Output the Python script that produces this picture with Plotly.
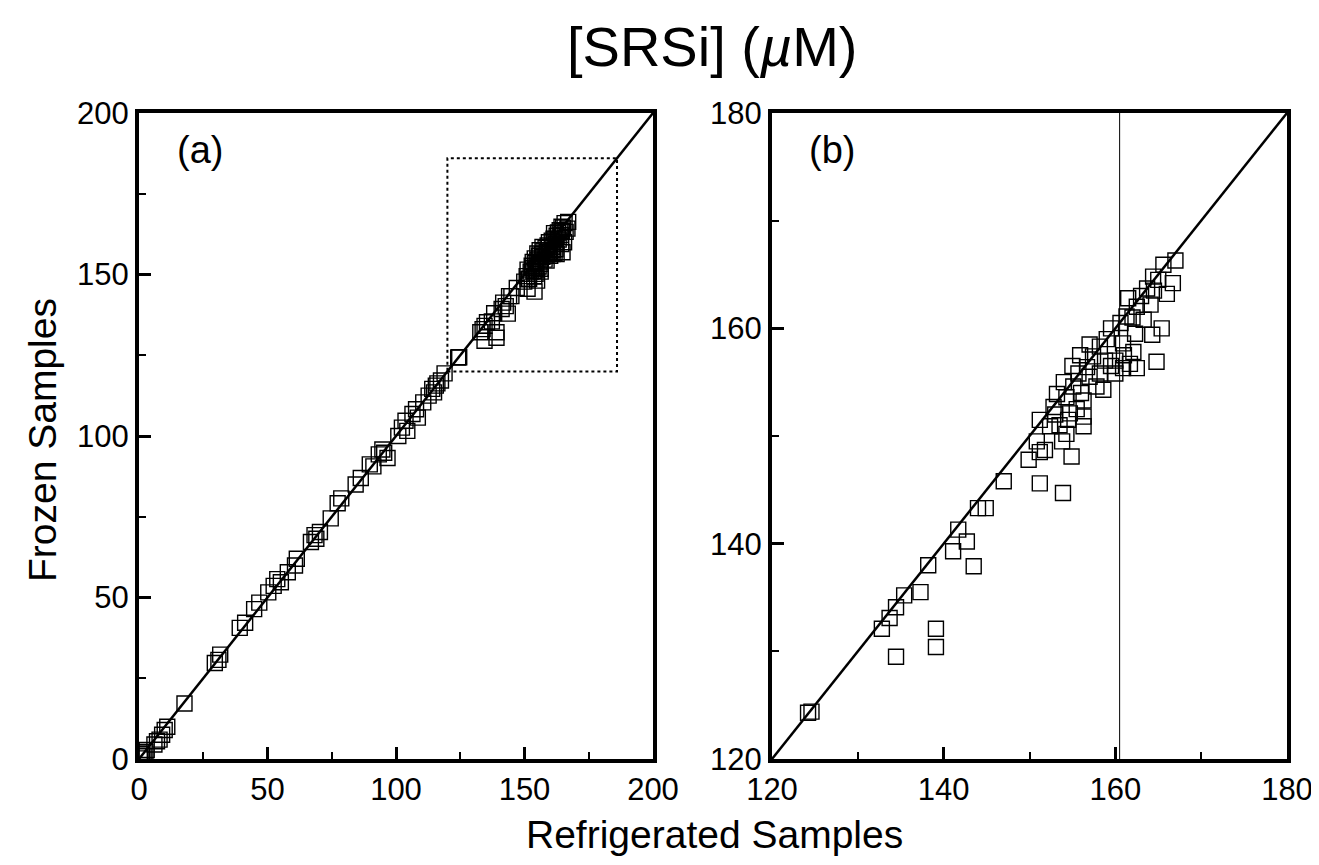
import plotly.graph_objects as go

# Refrigerated (x) vs Frozen (y) [SRSi] in uM
refrigerated = [
    0.3, 0.5, 1.2, 1.8, 2.5, 1.0, 3.0,
    6.0, 7.0, 8.0, 9.0, 10.0, 11.0,
    17.7, 29.5, 30.9, 31.6, 39.2, 41.3, 44.8, 46.8,
    50.3, 52.4, 53.8, 55.2, 57.9, 60.7, 61.4,
    66.9, 68.3, 69.0, 70.4, 74.6, 77.3, 78.7,
    84.3, 86.3, 89.8, 91.2, 93.3, 94.7, 95.4, 96.7,
    100.9, 102.3, 103.7, 104.4, 106.4, 107.8, 108.5,
    110.6, 112.7, 114.1, 115.5, 114.8, 117.5, 116.1, 118.9,
    124.2, 124.6,
    132.8, 133.7, 134.45, 135.4, 137.3, 138.2,
    134.45, 139.1, 139.1,
    141.1, 141.7, 142.7, 143.5,
    144.0, 144.9, 147.0, 151.2, 153.9,
    149.9, 151.2, 150.85, 151.8, 154.9,
    153.8, 154.3, 152.4, 151.2, 152.8, 154.7,
    156.3, 156.3, 156.3, 153.2, 154.3, 155.1,
    157.8, 158.6, 155.7, 158.2, 156.7, 155.9,
    157.4, 158.8, 160.0, 160.9, 162.5, 161.7,
    162.1, 160.9, 158.2, 159.0, 162.3, 164.3,
    164.8, 165.4, 163.3, 160.6, 161.3, 164.1,
    162.5, 161.5, 163.7, 166.0, 166.7, 164.4,
    165.6, 167.0,
    153.5, 154.0, 155.0, 157.0, 159.5, 162.0, 163.0, 164.5, 165.0,
    160.0, 161.0, 159.5, 155.5, 154.5, 153.0, 156.0, 157.0,
]
frozen = [
    0.2, 0.8, 1.5, 1.0, 2.2, 2.0, 2.8,
    4.5, 5.5, 6.0, 7.5, 9.0, 10.0,
    17.2, 29.7, 30.7, 32.3, 40.6, 42.2, 46.4, 48.4,
    51.6, 53.6, 55.7, 54.7, 57.8, 59.9, 62.0,
    67.2, 69.3, 68.2, 70.3, 74.5, 79.2, 80.7,
    85.0, 87.0, 91.2, 90.6, 94.3, 95.8, 94.8, 93.2,
    100.0, 102.6, 104.7, 101.6, 106.8, 108.3, 105.7,
    110.4, 112.5, 114.6, 115.6, 113.5, 117.2, 116.3, 119.4,
    124.3, 124.4,
    132.1, 133.1, 134.1, 135.2, 135.5, 138.0,
    129.5, 130.4, 132.1,
    139.3, 141.3, 140.2, 137.9,
    143.3, 143.3, 145.8, 145.6, 144.7,
    147.8, 148.5, 149.5, 148.7, 148.1,
    149.5, 150.2, 150.9, 151.5, 152.7, 152.1,
    150.9, 151.8, 153.3, 153.9, 153.6, 154.6,
    154.6, 154.3, 155.8, 155.8, 156.4, 157.5,
    157.4, 157.0, 155.8, 156.3, 156.3, 156.7,
    157.8, 158.6, 158.3, 159.0, 159.5, 159.4,
    156.9, 160.0, 160.8, 160.5, 161.1, 162.2,
    162.0, 162.8, 163.7, 163.2, 164.2, 164.8,
    165.9, 166.3,
    151.0, 155.0, 156.5, 158.5, 160.0, 161.0, 163.0, 163.5, 164.5,
    157.0, 157.5, 156.5, 152.5, 151.5, 152.0, 154.0, 155.5,
]

range_a = [0, 200]
range_b = [120, 180]
ticks_a = [0, 50, 100, 150, 200]
ticks_b = [120, 140, 160, 180]
zoom_box = [120, 186]
vline_b = 160.5

# page body has an 8px margin: the figure is laid out so that it lands on the target pixels
OFF = 8
W, H = 1319 - OFF, 865 - OFF


def px(x):
    return (x - OFF) / W


def py(y):
    return 1 - (y - OFF) / H


fig = go.Figure()

marker = dict(symbol="square-open", size=15, color="black", line=dict(width=1.4))

fig.add_trace(go.Scatter(x=range_a, y=range_a, mode="lines",
                         line=dict(color="black", width=2.5), xaxis="x", yaxis="y",
                         hoverinfo="skip"))
fig.add_trace(go.Scatter(x=refrigerated, y=frozen, mode="markers", marker=marker,
                         xaxis="x", yaxis="y"))
fig.add_trace(go.Scatter(x=range_b, y=range_b, mode="lines",
                         line=dict(color="black", width=2.5), xaxis="x2", yaxis="y2",
                         hoverinfo="skip"))
fig.add_trace(go.Scatter(x=refrigerated, y=frozen, mode="markers", marker=marker,
                         xaxis="x2", yaxis="y2"))

FONT = "Liberation Sans, Arial, sans-serif"
tickfont = dict(family=FONT, size=31, color="black")


def axis_style(rng, tickvals, dom, anchor, minor_dtick):
    return dict(
        range=rng, domain=dom, anchor=anchor, automargin=False,
        tickvals=tickvals, ticks="inside", ticklen=12, tickwidth=2.5, tickcolor="black",
        minor=dict(ticks="inside", ticklen=7, tickwidth=2, dtick=minor_dtick, tickcolor="black"),
        showline=True, linewidth=4, linecolor="black", mirror=True,
        showgrid=False, zeroline=False, tickfont=tickfont,
    )


xd_a = [px(139), px(653)]
xd_b = [px(772), px(1287)]
yd = [py(759), py(113)]

fig.update_layout(
    width=W, height=H,
    margin=dict(l=0, r=0, t=0, b=0, autoexpand=False),
    paper_bgcolor="white", plot_bgcolor="white",
    showlegend=False,
    xaxis=axis_style(range_a, ticks_a, xd_a, "y", 25),
    yaxis=axis_style(range_a, ticks_a, yd, "x", 25),
    xaxis2=axis_style(range_b, ticks_b, xd_b, "y2", 10),
    yaxis2=axis_style(range_b, ticks_b, yd, "x2", 10),
    font=dict(family=FONT, color="black"),
)

# dotted zoom box in panel (a)
fig.add_shape(type="rect", xref="x", yref="y",
              x0=zoom_box[0], x1=zoom_box[1], y0=zoom_box[0], y1=zoom_box[1],
              line=dict(color="black", width=2, dash="dot"))
# thin vertical line in panel (b)
fig.add_shape(type="line", xref="x2", yref="y2",
              x0=vline_b, x1=vline_b, y0=range_b[0], y1=range_b[1],
              line=dict(color="black", width=1))


def label(text, x, y, size, angle=0):
    fig.add_annotation(text=text, xref="paper", yref="paper", x=px(x), y=py(y),
                       xanchor="center", yanchor="middle", showarrow=False,
                       textangle=angle, font=dict(size=size, color="black", family=FONT))


label("[SRSi] (<i>µ</i>M)", 712, 47, 56)
label("Refrigerated Samples", 714, 834, 39)
label("Frozen Samples", 42, 440, 39, -90)
label("(a)", 200, 150, 38)
label("(b)", 832, 150, 38)

fig.write_html("out.html")
